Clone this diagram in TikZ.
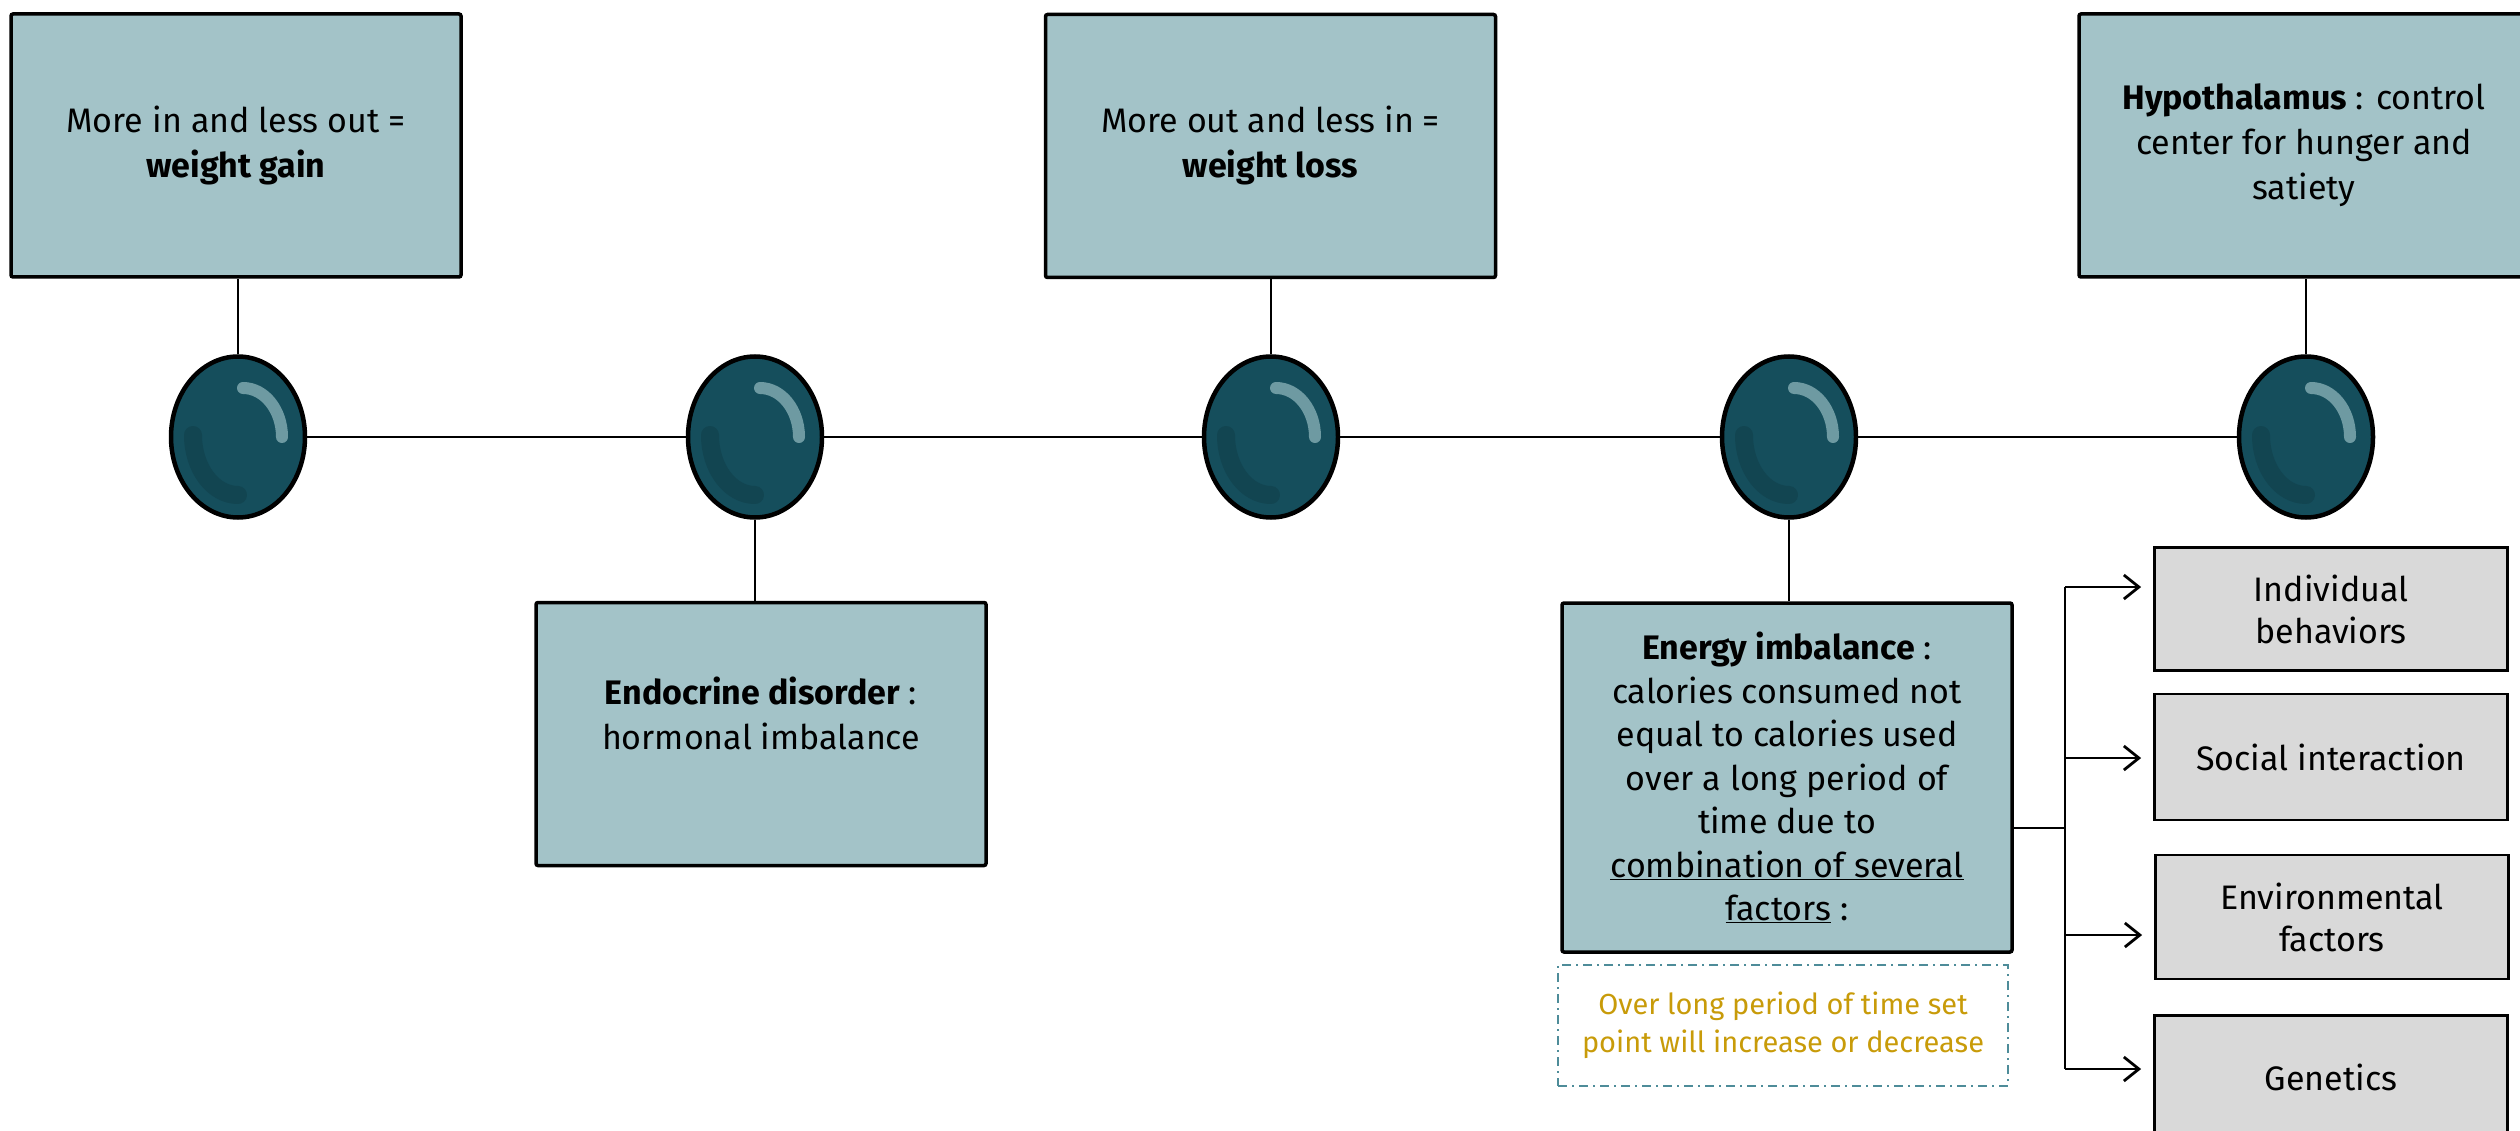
\documentclass[tikz,border=0pt]{standalone}
\usepackage{fontspec}
\setmainfont{Fira Sans}
\usetikzlibrary{shapes.geometric,arrows.meta}
\definecolor{boxblue}{HTML}{A3C3C8}
\definecolor{beadfill}{HTML}{154E5C}
\definecolor{beadhi}{HTML}{6E9AA2}
\definecolor{beadsh}{HTML}{124551}
\definecolor{greybox}{HTML}{D9D9D9}
\definecolor{dashcol}{HTML}{4E8C99}
\definecolor{notecol}{HTML}{C89B09}
\begin{document}
\begin{tikzpicture}[x=1pt,y=-1pt,
  bluebox/.style={draw=black, line width=3.5pt, fill=boxblue, minimum width=450pt,
    minimum height=263pt, align=center, inner sep=0pt, rounded corners=2pt,
    font=\fontsize{34}{45}\selectfont},
  greyfactor/.style={draw=black, line width=2.8pt, fill=greybox, minimum width=353pt,
    minimum height=123pt, align=center, inner sep=0pt,
    font=\fontsize{34}{42}\selectfont},
  bead/.style={ellipse, draw=black, line width=4.5pt, fill=beadfill,
    minimum width=134pt, minimum height=161pt, inner sep=0pt},
  tline/.style={line width=2pt, draw=black},
  arr/.style={line width=2.8pt, -{Straight Barb[length=15pt,width=24pt,line width=2.8pt]}, shorten >=12pt},
  notebox/.style={draw=dashcol, line width=2pt, dash pattern=on 9pt off 5pt on 2pt off 5pt,
    minimum width=450pt, minimum height=121pt, align=center, inner sep=0pt,
    text=notecol, font=\fontsize{29}{38}\selectfont}
]
\useasboundingbox (0,0) rectangle (2520,1131);

% top boxes
\node[bluebox] (t1) at (236,145.5) {More in and less out =\\\textbf{weight gain}};
\node[bluebox] (t3) at (1270.5,146) {More out and less in =\\\textbf{weight loss}};
\node[bluebox] (t5) at (2304,145.5) {\textbf{Hypothalamus} : control\\center for hunger and\\satiety};

% bottom boxes
\node[bluebox] (b2) at (761,734) {\textbf{Endocrine disorder} :\\hormonal imbalance\\[-4pt]\mbox{}};
\node[bluebox, minimum height=349pt, font=\fontsize{34}{43.5}\selectfont] (b4) at (1787,777.5)
  {\textbf{Energy imbalance} :\\calories consumed not\\equal to calories used\\over a long period of\\time due to\\\underline{combination of several}\\\underline{factors} :};
\node[notebox] (note) at (1783,1025.5) {Over long period of time set\\point will increase or decrease};

% beads
\foreach \i/\x in {1/238,2/755,3/1271,4/1789,5/2306}{
  \node[bead] (c\i) at (\x,437) {};
  \draw[beadsh, line width=18pt, line cap=round] ([shift={(-45,-2)}]c\i.center)
    arc[start angle=180, end angle=90, x radius=45, y radius=60];
  \draw[beadhi, line width=12pt, line cap=round] ([shift={(5,-49)}]c\i.center)
    arc[start angle=-90, end angle=0, x radius=39, y radius=49];
}

% timeline
\draw[tline] (c1) -- (c2);
\draw[tline] (c2) -- (c3);
\draw[tline] (c3) -- (c4);
\draw[tline] (c4) -- (c5);

% stems
\draw[tline, line width=2.5pt] (c1.north) -- (c1.north |- t1.south);
\draw[tline, line width=2.5pt] (c3.north) -- (c3.north |- t3.south);
\draw[tline, line width=2.5pt] (c5.north) -- (c5.north |- t5.south);
\draw[tline, line width=2.5pt] (c2.south) -- (c2.south |- b2.north);
\draw[tline, line width=2.5pt] (c4.south) -- (c4.south |- b4.north);

% factor boxes
\node[greyfactor] (g1) at (2331,609) {Individual\\behaviors};
\node[greyfactor, minimum height=126pt] (g2) at (2331,757) {Social interaction};
\node[greyfactor, minimum height=124pt] (g3) at (2332,917) {Environmental\\factors};
\node[greyfactor] (g4) at (2331,1077) {Genetics};

% bracket
\coordinate (br) at (2065,828);
\coordinate (a1) at ([yshift=22pt]g1.west);
\coordinate (a2) at ([yshift=-1pt]g2.west);
\coordinate (a3) at ([yshift=-18pt]g3.west);
\coordinate (a4) at ([yshift=8pt]g4.west);
\draw[tline] (br -| b4.east) -- (br);
\draw[line width=2.8pt] (br |- a1) -- (br |- a4);
\draw[arr] (br |- a1) -- (a1);
\draw[arr] (br |- a2) -- (a2);
\draw[arr] (br |- a3) -- (a3);
\draw[arr] (br |- a4) -- (a4);
\end{tikzpicture}
\end{document}
